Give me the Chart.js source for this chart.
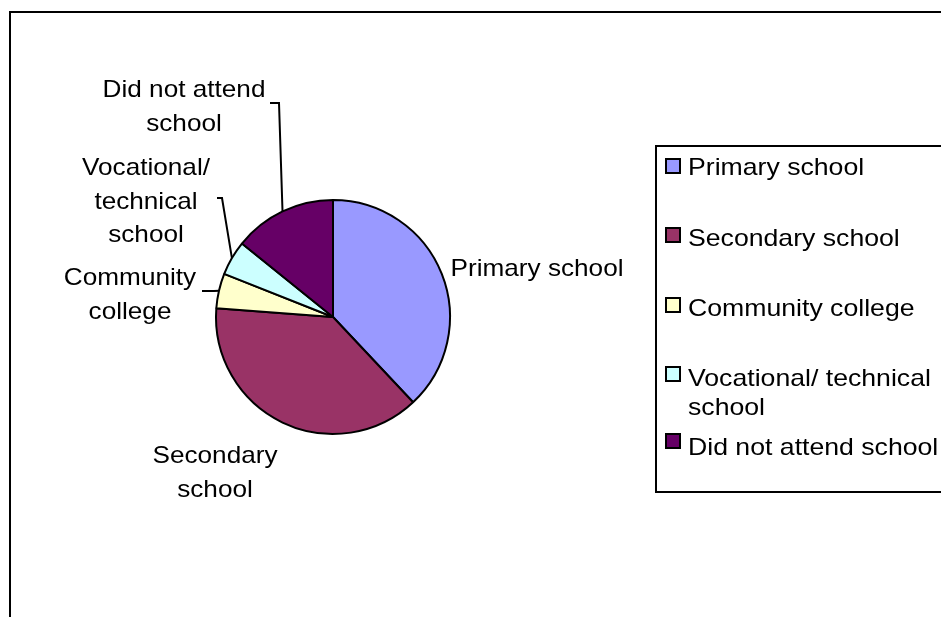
<!DOCTYPE html>
<html>
  <head>
    <script src="https://cdn.jsdelivr.net/npm/chart.js@4"></script>
    <style>
      body { margin: 0; background: #fff; }
    </style>
  </head>

  <body>
    <canvas id="canvas" width="941" height="617"></canvas>
    <script>
      const categories = [
        'Primary school',
        'Secondary school',
        'Community college',
        'Vocational/ technical school',
        'Did not attend school',
      ];
      const shares = [38.0, 38.2, 4.8, 4.8, 14.2];
      const sliceColors = ['#9999FF', '#993366', '#FFFFCC', '#CCFFFF', '#660066'];

      // how the text wraps next to the pie and in the legend
      const pieLabelLines = [
        ['Primary school'],
        ['Secondary', 'school'],
        ['Community', 'college'],
        ['Vocational/', 'technical', 'school'],
        ['Did not attend', 'school'],
      ];
      const legendLines = [
        ['Primary school'],
        ['Secondary school'],
        ['Community college'],
        ['Vocational/ technical', 'school'],
        ['Did not attend school'],
      ];

      // label placement (Excel "best fit" style), text centre x + first baseline
      const labelPlace = [
        { x: 537, y: 276, leader: null },
        { x: 215, y: 463, leader: null },
        { x: 130, y: 285, leader: [[202, 291], [214, 291]] },
        { x: 146, y: 175, leader: [[217, 198], [222, 198]] },
        { x: 184, y: 97, leader: [[270, 103], [279, 103]] },
      ];
      const legendPlace = [
        { y: 175, marker: 166 },
        { y: 246, marker: 235 },
        { y: 316, marker: 305 },
        { y: 386, marker: 374 },
        { y: 455, marker: 441 },
      ];

      const FONT = '24px "Liberation Sans", Arial, sans-serif';

      function stretchText(ctx, str, x, y, align, sx) {
        ctx.save();
        ctx.translate(x, y);
        ctx.scale(sx, 1);
        ctx.textAlign = align;
        ctx.textBaseline = 'alphabetic';
        ctx.fillText(str, 0, 0);
        ctx.restore();
      }

      const background = {
        id: 'background',
        beforeDraw(chart) {
          const ctx = chart.ctx;
          ctx.save();
          ctx.fillStyle = '#fff';
          ctx.fillRect(0, 0, chart.width, chart.height);
          ctx.restore();
        },
      };

      const excelBits = {
        id: 'excelBits',
        afterDraw(chart) {
          const ctx = chart.ctx;
          const arcs = chart.getDatasetMeta(0).data;
          ctx.save();

          // chart area frame (only top and left edges are in view)
          ctx.strokeStyle = '#000';
          ctx.lineWidth = 2;
          ctx.beginPath();
          ctx.moveTo(10, chart.height);
          ctx.lineTo(10, 12);
          ctx.lineTo(chart.width + 2, 12);
          ctx.stroke();

          // data labels + leader lines
          ctx.font = FONT;
          ctx.fillStyle = '#000';
          arcs.forEach((arc, i) => {
            const p = labelPlace[i];
            pieLabelLines[i].forEach((line, k) => {
              stretchText(ctx, line, p.x, p.y + k * 33.5, 'center', 1.09);
            });
            if (p.leader) {
              const mid = (arc.startAngle + arc.endAngle) / 2;
              const ex = arc.x + Math.cos(mid) * arc.outerRadius;
              const ey = arc.y + Math.sin(mid) * arc.outerRadius;
              ctx.lineWidth = 2;
              ctx.beginPath();
              ctx.moveTo(p.leader[0][0], p.leader[0][1]);
              ctx.lineTo(p.leader[1][0], p.leader[1][1]);
              ctx.lineTo(ex, ey);
              ctx.stroke();
            }
          });

          // legend box
          ctx.lineWidth = 2;
          ctx.strokeRect(656, 146, 320, 346);
          const colors = chart.data.datasets[0].backgroundColor;
          chart.data.labels.forEach((lab, i) => {
            const lp = legendPlace[i];
            ctx.fillStyle = colors[i];
            ctx.fillRect(666, lp.marker - 7, 14, 14);
            ctx.lineWidth = 2;
            ctx.strokeRect(666, lp.marker - 7, 14, 14);
            ctx.fillStyle = '#000';
            legendLines[i].forEach((line, k) => {
              stretchText(ctx, line, 688, lp.y + k * 29, 'left', 1.11);
            });
          });
          ctx.restore();
        },
      };

      new Chart(document.getElementById('canvas').getContext('2d'), {
        type: 'pie',
        data: {
          labels: categories,
          datasets: [
            {
              data: shares,
              backgroundColor: sliceColors,
              borderColor: '#000',
              borderWidth: 2,
            },
          ],
        },
        options: {
          responsive: false,
          animation: false,
          layout: { padding: { left: 215, right: 490, top: 199, bottom: 182 } },
          plugins: {
            legend: { display: false },
            tooltip: { enabled: false },
          },
        },
        plugins: [background, excelBits],
      });
    </script>
  </body>
</html>
